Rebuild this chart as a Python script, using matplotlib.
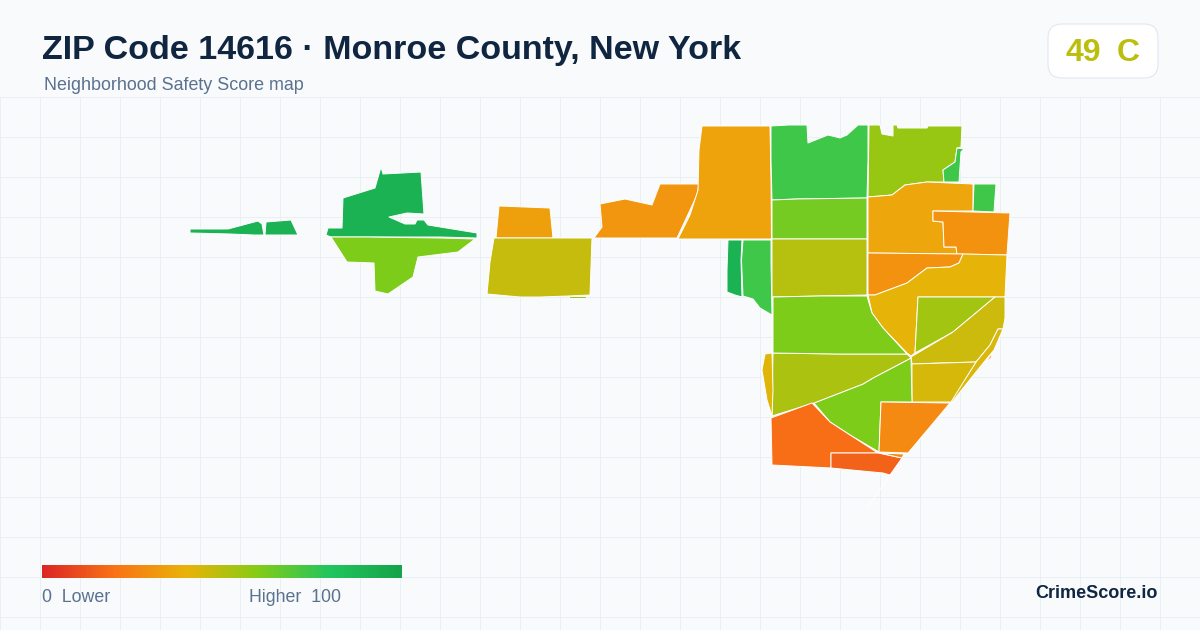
import matplotlib
matplotlib.use('Agg')
import matplotlib.pyplot as plt
import numpy as np
from matplotlib.colors import LinearSegmentedColormap
from matplotlib.patches import Polygon, FancyBboxPatch

plt.rcParams['font.family'] = ['Liberation Sans', 'DejaVu Sans']

TITLE = 'ZIP Code 14616 · Monroe County, New York'
SUBTITLE = 'Neighborhood Safety Score map'
OVERALL_SCORE = 49
OVERALL_GRADE = 'C'

# score colours, same stops as the legend bar
scale_stops = [0.0, 0.2, 0.4, 0.6, 0.8, 1.0]
scale_colors = ['#dc2626', '#f97316', '#eab308', '#84cc16', '#22c55e', '#16a34a']

# tract outlines (x, y in image pixels)
west_a = [(190, 229), (228, 229), (258, 221), (262, 224), (264, 235), (254, 235), (230, 234), (190, 233)]
west_b = [(266, 222), (291, 220), (298, 235), (265, 235)]
west_c = [(326, 235), (328, 228), (342, 228), (343, 198), (375, 188), (381, 167), (383, 174), (421, 172),
          (424, 214), (407, 213), (389, 217), (405, 224), (415, 224), (417, 220), (424, 220), (428, 225),
          (477, 233), (477, 238), (440, 237), (367, 237), (331, 237)]
west_d = [(331, 237), (367, 237), (440, 238), (475, 239), (458, 252), (418, 257), (413, 277), (388, 294),
          (375, 291), (374, 263), (347, 262)]
mid_a = [(499, 206), (550, 208), (553, 238), (496, 238)]
mid_b = [(494, 238), (592, 238), (590, 295), (568, 296), (540, 297), (520, 297), (487, 294), (490, 262)]
mid_c = [(569, 296), (586, 296), (586, 297.5), (569, 297.5)]
mid_d = [(600, 204), (625, 199), (652, 205), (660, 184), (699, 184), (697, 195), (677, 238), (594, 238),
         (602, 227)]
north_a = [(702, 126), (770, 126), (771, 180), (771.5, 239), (678, 239), (690, 215), (698, 190), (699, 150)]
north_b = [(771, 126), (789, 125), (807, 125), (808, 143), (828, 135), (840, 138), (847, 135), (858, 125),
           (868, 125), (868, 160), (867, 198), (797, 199), (772, 200), (771, 160)]
north_c = [(772, 200), (797, 199), (867, 198), (867, 239), (772, 239)]
north_d = [(772, 239), (867, 239), (867, 295), (820, 296), (772, 297)]
strip_a = [(728, 240), (742, 240), (741, 260), (742, 297), (735, 295), (727, 292), (727, 270)]
strip_b = [(743, 240), (771, 240), (771, 262), (772, 315), (760, 308), (753, 299), (743, 296), (741.5, 260)]
east_a = [(869, 125), (880, 125), (882, 134), (893, 136), (893, 125), (897, 125), (898, 128), (927, 128),
          (928, 126), (962, 126), (961, 147), (957, 148), (955, 162), (943, 170), (944, 182), (927, 182),
          (905, 185), (892, 195), (868, 197)]
east_b = [(957, 148), (964, 149), (961, 152), (959, 182), (944, 182), (943, 170), (955, 162)]
east_c = [(868, 197), (892, 195), (905, 185), (927, 182), (973, 184), (973, 211), (933, 211), (933, 221),
          (943, 222), (944, 247), (956, 247), (957, 254), (868, 253)]
east_d = [(974, 184), (996, 184), (994, 212), (973, 211)]
east_e = [(933, 211), (1010, 213), (1007, 255), (957, 254), (956, 247), (944, 247), (943, 222), (933, 221)]
east_f = [(868, 253), (963, 254), (959, 263), (950, 267), (927, 268), (907, 283), (875, 295), (868, 295)]
east_g = [(868, 295), (875, 295), (907, 283), (927, 268), (950, 267), (959, 263), (963, 254), (1007, 255),
          (1005, 297), (918, 297), (915, 353), (911, 356), (907, 353), (883, 328), (872, 313)]
east_h = [(918, 297), (995, 297), (953, 332), (915, 353)]
east_i = [(995, 297), (1005, 297), (1005, 318), (1003, 329), (998, 329), (990, 345), (976, 362), (940, 363),
          (912, 364), (911, 357), (953, 332)]
east_j = [(998, 329), (1003, 329), (994, 350), (984, 362), (952, 402), (950, 402), (976, 362), (990, 345)]
east_k = [(993, 352), (991, 358), (985, 363)]
south_a = [(912, 364), (976, 362), (951, 402), (912, 402)]
south_b = [(911, 358), (912, 402), (881, 402), (879, 452), (850, 435), (830, 422), (814, 403), (863, 384),
           (873, 378)]
south_c = [(773, 353), (837, 354), (907, 354), (911, 358), (873, 378), (863, 384), (814, 403), (772, 416)]
south_d = [(773, 297), (820, 296), (867, 296), (872, 313), (883, 328), (907, 354), (837, 354), (773, 353)]
south_e = [(765, 354), (772, 353), (773, 390), (772, 416), (767, 400), (762, 370)]
south_f = [(771, 418), (812, 403), (830, 422), (850, 435), (878, 453), (831, 453), (831, 468), (772, 465)]
south_g = [(831, 453), (878, 453), (902, 458), (890, 475), (883, 473), (831, 468)]
south_h = [(881, 402), (950, 403), (908, 453), (879, 452)]
south_i = [(880, 453), (904, 454), (902, 458)]

tract_outlines = [west_a, west_b, west_c, west_d, mid_a, mid_b, mid_c, mid_d, north_a, north_b, north_c, north_d,
                  strip_a, strip_b, east_a, east_b, east_c, east_d, east_e, east_f, east_g, east_h, east_i,
                  east_j, east_k, south_a, south_b, south_c, south_d, south_e, south_f, south_g, south_h, south_i]
tract_scores = [91, 91, 91, 61, 34, 47, 58, 31, 35, 74, 63, 50,
                91, 74, 56, 74, 36, 74, 30, 30, 41, 54, 46,
                43, 27, 44, 61, 52, 61, 42, 19, 16, 27, 27]

# thin white sliver under the south tip
sliver_x = [867, 890]
sliver_y = [508, 475]

cmap = LinearSegmentedColormap.from_list('safety', list(zip(scale_stops, scale_colors)))

fig = plt.figure(figsize=(12, 6.3), dpi=100, facecolor='#f8fafc')
ax = fig.add_axes([0, 0, 1, 1])
ax.set_xlim(0, 1200)
ax.set_ylim(630, 0)
ax.axis('off')

# background grid only starts under the header
for x in np.arange(0, 1200, 40):
    ax.plot([x, x], [97, 630], color='#e8f0f3', lw=0.72, zorder=1)
for y in np.arange(97, 630, 40):
    ax.plot([0, 1200], [y, y], color='#e8f0f3', lw=0.72, zorder=1)

for outline, score in zip(tract_outlines, tract_scores):
    ax.add_patch(Polygon(outline, closed=True, facecolor=cmap(score / 100), edgecolor='white', lw=0.7,
                         joinstyle='round', zorder=2))
ax.plot(sliver_x, sliver_y, color='white', lw=0.7, zorder=2)

ax.text(42, 50, TITLE, fontsize=24.5, fontweight='bold', color='#0f2540', va='center', ha='left', zorder=5)
ax.text(44, 86, SUBTITLE, fontsize=12.9, color='#5a7190', va='center', ha='left', zorder=5)

# score badge
ax.add_patch(FancyBboxPatch((1062, 38), 82, 26, boxstyle='round,pad=14,rounding_size=14', facecolor='white',
                            edgecolor='#e2e8f0', lw=0.8, zorder=4))
ax.text(1065, 53, f'{OVERALL_SCORE}', fontsize=23, fontweight='bold', color=cmap(OVERALL_SCORE / 100),
        va='center', ha='left', zorder=5)
ax.text(1140, 53, OVERALL_GRADE, fontsize=23, fontweight='bold', color=cmap(OVERALL_SCORE / 100),
        va='center', ha='right', zorder=5)

# legend bar
gradient = np.linspace(0, 1, 360).reshape(1, -1)
ax.imshow(gradient, cmap=cmap, extent=(42, 402, 578, 565), aspect='auto', zorder=4)
ax.set_xlim(0, 1200)
ax.set_ylim(630, 0)
ax.text(42, 598, '0  Lower', fontsize=12.8, color='#5a7190', va='center', ha='left', zorder=5)
ax.text(249, 598, 'Higher  100', fontsize=12.8, color='#5a7190', va='center', ha='left', zorder=5)

ax.text(1158, 594, 'CrimeScore.io', fontsize=13, fontweight='bold', color='#0f2540', va='center', ha='right',
        zorder=5)

fig.savefig('out.png', dpi=100, facecolor=fig.get_facecolor())
